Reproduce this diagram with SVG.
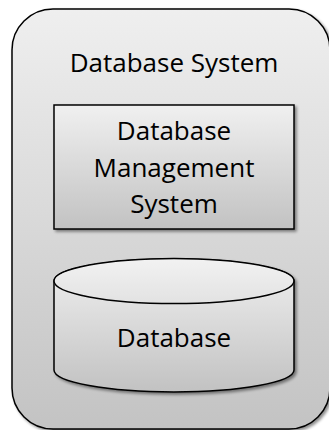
<svg xmlns="http://www.w3.org/2000/svg" width="329" height="430" viewBox="0 0 329 430">
  <defs>
    <linearGradient id="outerFill" x1="0" y1="0" x2="0" y2="1">
      <stop offset="0" stop-color="#efefef"/>
      <stop offset="1" stop-color="#c3c3c3"/>
    </linearGradient>
    <linearGradient id="boxFill" x1="0" y1="0" x2="0" y2="1">
      <stop offset="0" stop-color="#f0f0f0"/>
      <stop offset="1" stop-color="#c2c2c2"/>
    </linearGradient>
    <linearGradient id="topFill" x1="0" y1="0" x2="0" y2="1">
      <stop offset="0" stop-color="#f2f2f2"/>
      <stop offset="1" stop-color="#e2e2e2"/>
    </linearGradient>
    <filter id="shadow" x="-10%" y="-10%" width="130%" height="130%">
      <feGaussianBlur in="SourceAlpha" stdDeviation="1.5"/>
      <feOffset dx="2" dy="2" result="b"/>
      <feComponentTransfer><feFuncA type="linear" slope="0.45"/></feComponentTransfer>
      <feMerge><feMergeNode/><feMergeNode in="SourceGraphic"/></feMerge>
    </filter>
  </defs>
  <style>
    .shape { stroke: #000; stroke-width: 1.5; }
    .label { font-family: "Open Sans", "Liberation Sans", sans-serif; font-size: 26px; fill: #000; text-anchor: middle; }
  </style>

  <g id="database-system">
    <rect x="12" y="9" width="318" height="420" rx="41" ry="41" class="shape" fill="url(#outerFill)" filter="url(#shadow)"/>
    <text x="174" y="72" class="label">Database System</text>
  </g>

  <g id="dbms">
    <rect x="54" y="105" width="240" height="124" class="shape" fill="url(#boxFill)" filter="url(#shadow)"/>
    <text x="174" y="140" class="label">Database</text>
    <text x="174" y="177" class="label">Management</text>
    <text x="174" y="213" class="label">System</text>
  </g>

  <g id="database">
    <g filter="url(#shadow)">
      <path d="M54,281 L54,370 A120,22 0 0 0 294,370 L294,281 A120,22 0 0 0 54,281 Z" class="shape" fill="url(#boxFill)"/>
      <ellipse cx="174" cy="281" rx="120" ry="22.5" class="shape" fill="url(#topFill)"/>
    </g>
    <text x="174" y="347" class="label">Database</text>
  </g>

  <g id="connectors"/>
</svg>
